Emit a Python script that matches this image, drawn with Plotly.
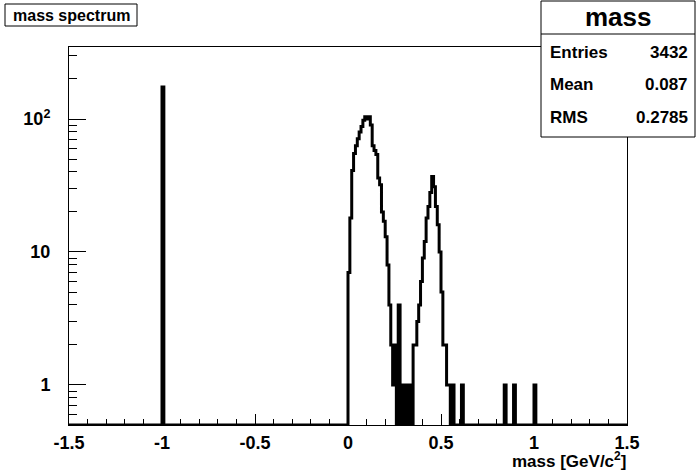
import numpy as np
import plotly.graph_objects as go

# ---------------- data ----------------
X_MIN, X_MAX = -1.5, 1.5
BIN_WIDTH = 0.01

spike_masses = [-1.0]
spike_counts = [174]

peak_start = 0.0
peak_counts = [7, 18, 41, 55, 63, 71, 80, 88, 98, 104,
               100, 104, 90, 63, 58, 54, 36, 32, 20, 17,
               13, 8, 4, 2, 1, 2, 0, 4, 0, 1,
               0, 1, 0, 1, 0, 2, 2, 3, 4, 6,
               9, 12, 18, 22, 28, 37, 31, 22, 16, 10,
               5, 2, 2, 1, 1, 0, 1, 0, 0, 0,
               0, 1]

tail_masses = [0.84, 0.89, 1.00]
tail_counts = [1, 1, 1]

x_ticks = [-1.5, -1.0, -0.5, 0.0, 0.5, 1.0, 1.5]
x_ticktext = ["-1.5", "-1", "-0.5", "0", "0.5", "1", "1.5"]
y_ticks = [1, 10, 100]
y_ticktext = ["1", "10", "10<sup>2</sup>"]
y_minor = [0.6, 0.7, 0.8, 0.9, 2, 3, 4, 5, 6, 7, 8, 9,
           20, 30, 40, 50, 60, 70, 80, 90, 200, 300]

hist_title = "mass spectrum"
stats_name = "mass"
stats_rows = [("Entries", "3432"), ("Mean", "0.087"), ("RMS", "0.2785")]
x_title = "mass [GeV/c<sup>2</sup>]"

Y_MIN = 0.5
Y_MAX = 2 * max(spike_counts + peak_counts)

# ---------------- build histogram ----------------
nbins = int(round((X_MAX - X_MIN) / BIN_WIDTH))
edges = np.linspace(X_MIN, X_MAX, nbins + 1)
counts = np.zeros(nbins)


def fill(mass, c):
    i = int(np.floor((mass - X_MIN) / BIN_WIDTH + 1e-6))
    counts[i] += c


for m, c in zip(spike_masses, spike_counts):
    fill(m, c)
for k, c in enumerate(peak_counts):
    fill(peak_start + k * BIN_WIDTH, c)
for m, c in zip(tail_masses, tail_counts):
    fill(m, c)

# empty bins are drawn on the frame floor, as ROOT does on a log axis
draw = np.where(counts > 0, counts, Y_MIN)
xs = edges
ys = np.append(draw, draw[-1])

FONT = "Liberation Sans"

fig = go.Figure()
fig.add_trace(go.Scatter(x=xs, y=ys, mode="lines", line_shape="hv",
                         line=dict(color="black", width=3),
                         hoverinfo="skip", showlegend=False))

# pixel helpers for decorations (plot area: x 69..627, y 47..425)
L, R, T, B = 69, 627, 47, 425


def px(p):
    return (p - L) / (R - L)


def py(p):
    return (B - p) / (B - T)


fig.update_layout(
    width=696, height=472,
    margin=dict(l=L, r=696 - R, t=T, b=472 - B, pad=0),
    paper_bgcolor="white", plot_bgcolor="white",
    showlegend=False,
    xaxis=dict(range=[X_MIN, X_MAX], showgrid=False, zeroline=False,
               showline=True, linecolor="black", linewidth=1, mirror=True,
               ticks="inside", ticklen=11, tickwidth=1, tickcolor="black",
               tickmode="array", tickvals=x_ticks, ticktext=x_ticktext,
               minor=dict(ticks="inside", ticklen=6, tickwidth=1, tickcolor="black",
                          tick0=0, dtick=0.1),
               tickfont=dict(family=FONT, size=18, color="black", weight="bold"),
               ticklabelstandoff=1),
    yaxis=dict(type="log", range=[np.log10(Y_MIN), np.log10(Y_MAX)],
               showgrid=False, zeroline=False,
               showline=True, linecolor="black", linewidth=1, mirror=True,
               ticks="inside", ticklen=17, tickwidth=1, tickcolor="black",
               tickmode="array", tickvals=y_ticks, ticktext=y_ticktext,
               minor=dict(ticks="inside", ticklen=8, tickwidth=1, tickcolor="black",
                          tickmode="array", tickvals=y_minor),
               tickfont=dict(family=FONT, size=18, color="black", weight="bold"),
               ticklabelstandoff=14),
)

shapes = []
annotations = []

# title box
shapes.append(dict(type="rect", xref="paper", yref="paper", layer="above",
                   x0=px(5), x1=px(137), y0=py(26), y1=py(4),
                   line=dict(color="black", width=1), fillcolor="white"))
annotations.append(dict(xref="paper", yref="paper", x=px(71), y=py(15),
                        text=hist_title, showarrow=False, xanchor="center", yanchor="middle",
                        font=dict(family=FONT, size=16, color="black", weight="bold")))

# stats box
shapes.append(dict(type="rect", xref="paper", yref="paper", layer="above",
                   x0=px(541), x1=px(695), y0=py(137), y1=py(1),
                   line=dict(color="black", width=1), fillcolor="white"))
shapes.append(dict(type="line", xref="paper", yref="paper", layer="above",
                   x0=px(541), x1=px(695), y0=py(34), y1=py(34),
                   line=dict(color="black", width=1)))
annotations.append(dict(xref="paper", yref="paper", x=px(618), y=py(17),
                        text=stats_name, showarrow=False, xanchor="center", yanchor="middle",
                        font=dict(family=FONT, size=26, color="black", weight="bold")))
row_y = [52, 84, 118]
for (lab, val), yy in zip(stats_rows, row_y):
    annotations.append(dict(xref="paper", yref="paper", x=px(548), y=py(yy),
                            text=lab, showarrow=False, xanchor="left", yanchor="middle",
                            font=dict(family=FONT, size=17, color="black", weight="bold")))
    annotations.append(dict(xref="paper", yref="paper", x=px(690), y=py(yy),
                            text=val, showarrow=False, xanchor="right", yanchor="middle",
                            font=dict(family=FONT, size=17, color="black", weight="bold")))

# x axis title
annotations.append(dict(xref="paper", yref="paper", x=px(628), y=py(460),
                        text=x_title, showarrow=False, xanchor="right", yanchor="middle",
                        font=dict(family=FONT, size=17, color="black", weight="bold")))

fig.update_layout(shapes=shapes, annotations=annotations)

fig.write_html("out.html", config={"displayModeBar": False},
               post_script="document.body.style.margin='0';document.body.style.padding='0';"
                           "document.body.style.overflow='hidden';")
